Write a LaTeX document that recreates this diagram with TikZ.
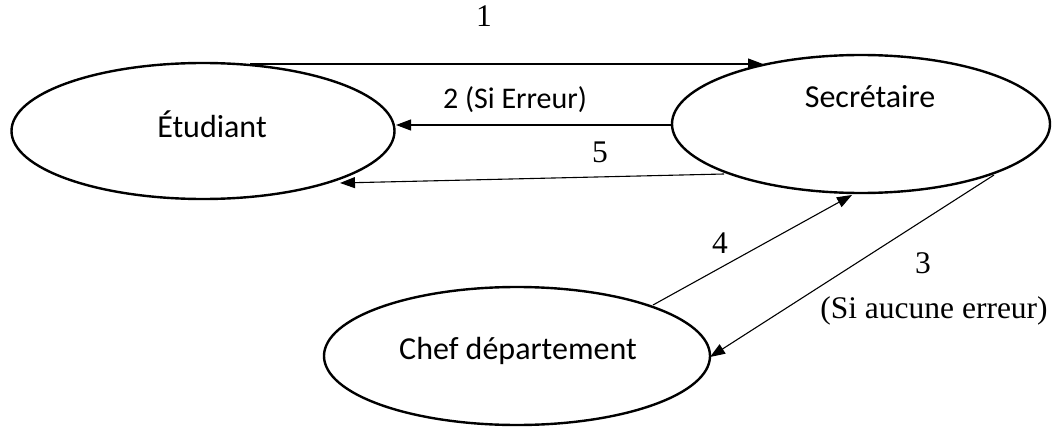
\documentclass[tikz,border=0pt]{standalone}
\usepackage{fontspec}
\setmainfont{Liberation Serif}
\newfontfamily\calib{Carlito}
\usetikzlibrary{shapes.geometric,arrows.meta}
\begin{document}
\begin{tikzpicture}[x=1pt,y=-1pt,
  actor/.style={draw,ellipse,line width=2.4pt,inner sep=0pt},
  flow/.style={line width=1.1pt,-{Triangle[length=15pt,width=11pt]}},
  roman/.style={font=\fontsize{31.5}{35}\selectfont,anchor=base},
  sans/.style={font=\calib\fontsize{32}{36}\selectfont,anchor=base},
  sanssmall/.style={font=\calib\fontsize{30}{34}\selectfont,anchor=base}]
\useasboundingbox (0,0) rectangle (1053,428);

% actors
\node[actor,minimum width=383pt,minimum height=136pt] (etu) at (203,131) {};
\node[actor,minimum width=378pt,minimum height=138pt] (sec) at (861,124) {};
\node[actor,minimum width=386pt,minimum height=138pt] (chef) at (517,356) {};

\node[sans] (etuT) at (212,137) {Étudiant};
\node[sans] (secT) at (870,107) {Secrétaire};
\node[sans] (chefT) at (518,359) {Chef département};

% anchor points on the outlines
\coordinate (e1) at (250,64);
\coordinate (e2) at (396,125);
\coordinate (e5) at (340,183);
\coordinate (s1) at (763,64);
\coordinate (s2) at (672,125);
\coordinate (s5) at (724,174);
\coordinate (s4) at (852,195);
\coordinate (s3) at (994,175);
\coordinate (c4) at (653,305);
\coordinate (c3) at (710,357);

% flows
\draw[flow] (e1) -- (s1);
\draw[flow] (s2) -- (e2);
\draw[flow] (s5) -- (e5);
\draw[flow] (c4) -- (s4);
\draw[flow] (s3) -- (c3);

% flow labels
\node[roman] (l1) at (484,27) {1};
\node[sanssmall] (l2) at (515,109) {2 (Si Erreur)};
\node[roman] (l5) at (600,162) {5};
\node[roman] (l4) at (720,253) {4};
\node[roman] (l3) at (923,273) {3};
\node[roman] (l3b) at (934,318) {(Si aucune erreur)};
\end{tikzpicture}
\end{document}
